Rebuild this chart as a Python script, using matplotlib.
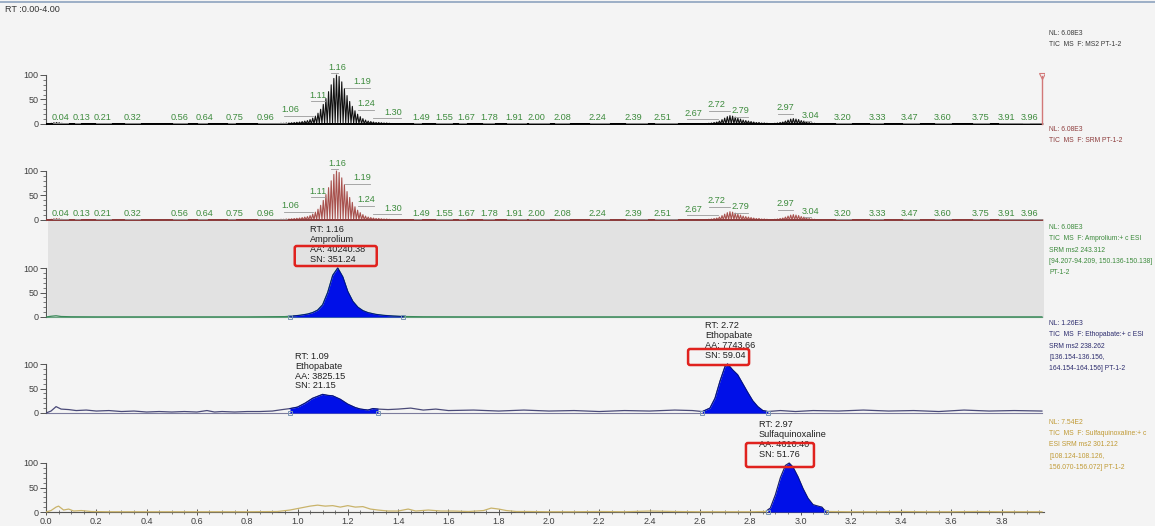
import numpy as np
import matplotlib
matplotlib.use("Agg")
import matplotlib.pyplot as plt
from matplotlib.patches import Rectangle, FancyBboxPatch
from matplotlib.ticker import MultipleLocator, FixedLocator

plt.rcParams['font.family'] = ['Liberation Sans', 'DejaVu Sans']

W, H, DPI = 1155, 526, 100

# ---------------- data ----------------
# TIC (MS2 / SRM): alternating scans, spike apex heights (% of NL) per scan
SCAN_DT = 0.0105
RT_END = 3.96
TIC_BASE = 0.8
tic_cluster_early_start = 0.02
tic_cluster_early = [1.5, 2.5, 3, 2.5, 1.5]
tic_cluster_main_start = 0.918
tic_cluster_main = [1, 1, 1.5, 1.5, 2, 2, 2.5, 3, 3.5, 4, 5, 6, 7, 9, 12, 16, 22,
                    30, 40, 52, 66, 80, 93, 100, 97, 86, 72, 58, 46, 36, 27, 20,
                    15, 11, 8, 6, 5, 4, 3, 3, 2.5, 2, 2, 1.5, 1]
tic_cluster_b_start = 2.6255
tic_cluster_b = [1, 1.5, 2, 3, 4, 6, 9, 12, 15, 17, 16, 14, 12, 10, 8, 7, 6, 5,
                 4, 3, 3, 2, 2, 1.5, 1]
tic_cluster_c_start = 2.886
tic_cluster_c = [1, 1.5, 2, 3, 4, 6, 8, 10, 11, 10, 9, 7, 6, 4, 3, 2, 1.5, 1]

tic_label_rt = [0.04, 0.13, 0.21, 0.32, 0.56, 0.64, 0.75, 0.96, 1.06, 1.11, 1.16,
                1.19, 1.24, 1.30, 1.49, 1.55, 1.67, 1.78, 1.91, 2.00, 2.08, 2.24,
                2.39, 2.51, 2.67, 2.72, 2.79, 2.97, 3.04, 3.20, 3.33, 3.47, 3.60,
                3.75, 3.91, 3.96]
tic_label_level = [14, 14, 14, 14, 14, 14, 14, 14, 29, 59, 116, 86, 41, 24, 14,
                   14, 14, 14, 14, 14, 14, 14, 14, 14, 22, 39, 27, 33, 18, 14, 14,
                   14, 14, 14, 14, 14]
# horizontal label shift in pixels (collision avoidance)
tic_label_shift_px = [4, 3, 4, 6, -7, -2, 0, -22, -22, -7, 0, 17, 8, 20, 0, 8, 0,
                      -4, -12, -13, -7, -12, -14, -15, -24, -14, -7, -8, 0, -8,
                      -6, -9, -9, -9, -23, -12]

# Amprolium SRM trace
amp_t = [0.00, 0.02, 0.04, 0.06, 0.10, 0.20, 0.40, 0.60, 0.80, 0.95, 0.98, 1.01,
         1.04, 1.06, 1.08, 1.10, 1.12, 1.14, 1.16, 1.18, 1.20, 1.22, 1.24, 1.26,
         1.28, 1.31, 1.34, 1.38, 1.42, 1.50, 1.70, 2.00, 2.50, 3.00, 3.50, 3.96]
amp_v = [0, 1.5, 2.5, 1, 0.5, 0.3, 0.3, 0.3, 0.3, 0.8, 2, 3.5, 6, 9, 14, 25, 50,
         85, 100, 82, 52, 32, 20, 13, 9, 5.5, 3.5, 2, 1, 0.5, 0.3, 0.3, 0.3, 0.3,
         0.3, 0.3]
amp_window = (0.97, 1.42)

# Ethopabate SRM trace
eth_t = [0.00, 0.02, 0.04, 0.06, 0.09, 0.12, 0.16, 0.20, 0.25, 0.30, 0.35, 0.40,
         0.45, 0.50, 0.55, 0.60, 0.64, 0.67, 0.70, 0.75, 0.80, 0.85, 0.90, 0.94,
         0.97, 1.00, 1.03, 1.06, 1.10, 1.12, 1.14, 1.17, 1.20, 1.23, 1.25, 1.28,
         1.30, 1.32, 1.36, 1.40, 1.45, 1.50, 1.55, 1.60, 1.70, 1.80, 1.90, 2.00,
         2.10, 2.20, 2.30, 2.40, 2.50, 2.57, 2.61, 2.64, 2.66, 2.68, 2.70, 2.71,
         2.73, 2.75, 2.77, 2.79, 2.81, 2.83, 2.85, 2.87, 2.92, 2.98, 3.05, 3.15,
         3.25, 3.35, 3.45, 3.55, 3.65, 3.75, 3.85, 3.96]
eth_v = [0, 4, 13, 8, 7, 5, 6, 4, 5, 3, 4, 2, 3, 2, 3, 2, 5, 2, 3, 2, 3, 3, 4, 7,
         9, 12, 20, 30, 38, 36, 35, 28, 18, 11, 8, 6, 9, 8, 7, 8, 10, 6, 8, 5, 6,
         4, 6, 4, 5, 3, 5, 4, 6, 5, 3, 10, 30, 65, 95, 100, 88, 78, 60, 42, 25,
         13, 5, 3, 5, 3, 5, 4, 6, 4, 5, 3, 6, 4, 5, 4]
eth_windows = [(0.97, 1.32), (2.61, 2.87)]

# Sulfaquinoxaline SRM trace
sq_t = [0.00, 0.02, 0.04, 0.05, 0.07, 0.09, 0.11, 0.14, 0.18, 0.25, 0.40, 0.60,
        0.80, 0.92, 0.97, 1.01, 1.05, 1.08, 1.11, 1.14, 1.17, 1.20, 1.23, 1.26,
        1.29, 1.32, 1.36, 1.40, 1.44, 1.47, 1.52, 1.57, 1.62, 1.68, 1.74, 1.77,
        1.80, 1.83, 1.87, 1.92, 2.00, 2.10, 2.20, 2.30, 2.40, 2.45, 2.50, 2.60,
        2.70, 2.80, 2.86, 2.88, 2.90, 2.92, 2.94, 2.955, 2.97, 2.99, 3.01, 3.03,
        3.05, 3.07, 3.085, 3.095, 3.11, 3.20, 3.30, 3.40, 3.50, 3.60, 3.70, 3.80,
        3.96]
sq_v = [0, 3, 10, 12, 4, 6, 2, 3, 1, 0.5, 0.5, 0.5, 0.5, 1, 4, 8, 12, 14, 12, 13,
        10, 13, 10, 11, 6, 4, 2, 2, 6, 2, 4, 2, 2, 1, 3, 8, 6, 3, 1, 1, 0.5, 0.5,
        1, 0.5, 2, 1.5, 1, 0.5, 0.5, 0.5, 1, 8, 35, 70, 95, 100, 92, 72, 48, 28,
        15, 12, 10, 4, 1, 0.5, 0.5, 1, 0.5, 0.5, 1, 0.5, 0.5]
sq_window = (2.87, 3.10)

peak_notes = [
    # (panel, rt, apex level, text)
    (2, 1.16, 100, "RT: 1.16\nAmprolium\nAA: 40240.38\nSN: 351.24"),
    (3, 1.09, 38, "RT: 1.09\nEthopabate\nAA: 3825.15\nSN: 21.15"),
    (3, 2.72, 100, "RT: 2.72\nEthopabate\nAA: 7743.66\nSN: 59.04"),
    (4, 2.97, 100, "RT: 2.97\nSulfaquinoxaline\nAA: 4610.40\nSN: 51.76"),
]
# highlight frames, pixel offsets (left, right, top, bottom) from each note anchor
note_frames = {0: (-43, 39, -22, -2), 2: (-42, 19, -15, 1), 3: (-47, 21, -20, 4)}

side_notes = [
    (30, "#3a3a3a", "NL: 6.08E3\nTIC  MS  F: MS2 PT-1-2"),
    (126, "#8e3d3d", "NL: 6.08E3\nTIC  MS  F: SRM PT-1-2"),
    (224, "#3b8a3b", "NL: 6.08E3\nTIC  MS  F: Amprolium:+ c ESI\nSRM ms2 243.312\n"
                     "[94.207-94.209, 150.136-150.138]\nPT-1-2"),
    (320, "#2d2d6e", "NL: 1.26E3\nTIC  MS  F: Ethopabate:+ c ESI\nSRM ms2 238.262\n"
                     "[136.154-136.156,\n164.154-164.156] PT-1-2"),
    (419, "#c09a35", "NL: 7.54E2\nTIC  MS  F: Sulfaquinoxaline:+ c\nESI SRM ms2 301.212\n"
                     "[108.124-108.126,\n156.070-156.072] PT-1-2"),
]

# ---------------- layout ----------------
X0_PX = 46          # pixel of RT 0
PX_PER_MIN = 251.5
X_MAX = 3.97
PX_PER_PCT = 0.49
BASE_PX = [124, 220, 317, 413, 512]   # baseline pixel row of each panel

BG = "#f4f4f4"
fig = plt.figure(figsize=(W / DPI, H / DPI), dpi=DPI, facecolor=BG)


def fx(px):
    return px / W


def fy(py):
    return 1 - py / H


# shaded (selected) band behind the Amprolium panel
fig.patches.append(Rectangle((fx(48), fy(318)), fx(1044) - fx(48), fy(220) - fy(318),
                             transform=fig.transFigure, facecolor="#e2e2e2",
                             edgecolor="none", zorder=-5))
fig.add_artist(plt.Line2D([0, 1], [fy(2), fy(2)], color="#8da3bf", lw=1.2))
fig.text(fx(5), fy(10), "RT :0.00-4.00", fontsize=6.5, color="#333333", va="center")

axes = []
for y0 in BASE_PX:
    bottom_px, top_px = y0 + 5, y0 - 95
    ax = fig.add_axes([fx(X0_PX), fy(bottom_px), (X_MAX * PX_PER_MIN) / W,
                       (bottom_px - top_px) / H])
    ax.set_xlim(0, X_MAX)
    ax.set_ylim(-5 / PX_PER_PCT, 95 / PX_PER_PCT)
    ax.patch.set_visible(False)
    ax.set_zorder(1)
    for s in ("top", "right", "bottom"):
        ax.spines[s].set_visible(False)
    ax.spines["left"].set_bounds(0, 100)
    ax.spines["left"].set_color("#555555")
    ax.spines["left"].set_linewidth(0.8)
    ax.yaxis.set_major_locator(FixedLocator([0, 50, 100]))
    ax.yaxis.set_minor_locator(FixedLocator(list(range(10, 100, 10))))
    ax.tick_params(axis="y", which="major", length=4, width=0.7, colors="#555555",
                   labelsize=6.5, labelcolor="#404040", pad=1.5)
    ax.tick_params(axis="y", which="minor", length=2, width=0.6, colors="#666666")
    ax.set_xticks([])
    axes.append(ax)

# bottom time axis
axb = axes[-1]
axb.spines["bottom"].set_visible(True)
axb.spines["bottom"].set_position(("data", 0))
axb.spines["bottom"].set_bounds(0, X_MAX)
axb.spines["bottom"].set_color("#555555")
axb.spines["bottom"].set_linewidth(0.8)
axb.xaxis.set_major_locator(MultipleLocator(0.2))
axb.xaxis.set_minor_locator(MultipleLocator(0.05))
axb.xaxis.set_major_formatter(matplotlib.ticker.FormatStrFormatter("%.1f"))
axb.tick_params(axis="x", which="major", direction="inout", length=5, width=0.7,
                colors="#555555", labelsize=6.5, labelcolor="#404040", pad=1)
axb.tick_params(axis="x", which="minor", direction="inout", length=3, width=0.6,
                colors="#666666")


# ---------------- TIC traces ----------------
def tic_trace():
    n = int(round(RT_END / SCAN_DT)) + 1
    t = np.arange(n) * SCAN_DT
    h = np.full(n, TIC_BASE)
    for start, heights in ((tic_cluster_early_start, tic_cluster_early),
                           (tic_cluster_main_start, tic_cluster_main),
                           (tic_cluster_b_start, tic_cluster_b),
                           (tic_cluster_c_start, tic_cluster_c)):
        i0 = int(round(start / SCAN_DT))
        h[i0:i0 + len(heights)] = heights
    x = np.empty(2 * n)
    y = np.empty(2 * n)
    x[0::2], y[0::2] = t, h
    x[1::2], y[1::2] = t + SCAN_DT / 2, h * 0.03
    return x, y


tx, ty = tic_trace()
for ax, col, base_col in ((axes[0], "#111111", "#000000"),
                          (axes[1], "#a8524e", "#8b3a3a")):
    ax.plot(tx, ty, color=col, lw=0.8, zorder=3)
    ax.plot([0, RT_END], [0, 0], color=base_col, lw=1.4, zorder=3)
    for rt, lev, dpx in zip(tic_label_rt, tic_label_level, tic_label_shift_px):
        lx = rt + dpx / PX_PER_MIN
        ax.text(lx, lev, f"{rt:.2f}", fontsize=6.6, color="#3d8b3d",
                ha="center", va="center", zorder=5)
        ul = lev - 6 / PX_PER_PCT
        a = min(rt, lx - 7 / PX_PER_MIN)
        b = max(rt, lx - 2 / PX_PER_MIN) if dpx <= 3 else max(rt, lx + 8 / PX_PER_MIN)
        ax.plot([a, b], [ul, ul], color="#9a9a9a", lw=0.6, zorder=4)

# scan marker at end of run
axes[0].plot([3.96, 3.96], [0, 98], color="#d27878", lw=1.0, zorder=4)
axes[0].plot([3.96], [98], marker="v", ms=4, mfc="none", mec="#d27878", mew=0.8,
             zorder=4)


# ---------------- SRM traces ----------------
def srm(ax, t, v, line_col, windows):
    t = np.asarray(t, float)
    v = np.asarray(v, float)
    ax.plot(t, v, color=line_col, lw=0.9, zorder=3)
    ax.plot([0, RT_END], [0, 0], color=line_col, lw=0.8, alpha=0.7, zorder=2)
    for a, b in windows:
        m = (t >= a) & (t <= b)
        xs = np.concatenate([[a], t[m], [b]])
        ys = np.concatenate([[np.interp(a, t, v)], v[m], [np.interp(b, t, v)]])
        ax.fill_between(xs, 0, ys, color="#0010e8", lw=0, zorder=4)
        ax.plot(xs, ys, color="#00108a", lw=0.7, zorder=4)
        ax.plot([a, b], [0, 0], ls="none", marker="s", ms=3.5, mfc="none",
                mec="#7a95b5", mew=0.7, zorder=5)


srm(axes[2], amp_t, amp_v, "#3a8a5a", [amp_window])
srm(axes[3], eth_t, eth_v, "#4a4a78", eth_windows)
srm(axes[4], sq_t, sq_v, "#c9b36a", [sq_window])

# ---------------- peak annotations ----------------
for k, (p, rt, lev, txt) in enumerate(peak_notes):
    ax = axes[p]
    y_anchor = lev + 4 / PX_PER_PCT
    ax.text(rt, y_anchor, txt, fontsize=6.6, color="#202020", ha="center",
            va="bottom", multialignment="left", linespacing=1.12, zorder=6,
            clip_on=False)
    if k in note_frames:
        l, r, t_, b_ = note_frames[k]
        ax_x, ax_y = ax.transData.transform((rt, lev))
        img_y = H - ax_y
        fig.patches.append(FancyBboxPatch(
            (ax_x + l, H - (img_y + b_)), r - l, b_ - t_,
            boxstyle="round,pad=0,rounding_size=2", transform=None,
            facecolor="none", edgecolor="#e0221e", lw=1.8, zorder=7))

# ---------------- trace descriptions ----------------
for y, col, txt in side_notes:
    fig.text(fx(1049), fy(y), txt, fontsize=4.85, color=col, va="top",
             ha="left", linespacing=1.85)

fig.savefig("out.png", dpi=DPI, facecolor=BG)
